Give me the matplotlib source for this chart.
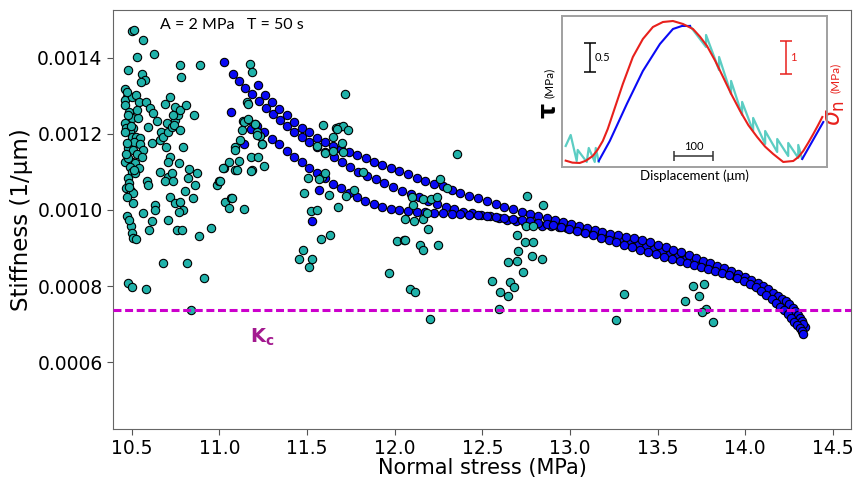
import numpy as np
import matplotlib
matplotlib.use("Agg")
import matplotlib.pyplot as plt
from matplotlib.ticker import FormatStrFormatter

# stiffness values below are in units of 1e-4 1/um
# stick-slip cycles (cyan)
cyan_sn = [10.503, 10.515, 10.563, 10.532, 10.629, 10.481, 10.561, 10.576, 10.551, 10.462,
           10.475, 10.462, 10.462, 10.503, 10.523, 10.543, 10.582, 10.604, 10.623, 10.486,
           10.500, 10.538, 10.462, 10.468, 10.509, 10.490, 10.595, 10.646, 10.671, 10.500,
           10.525, 10.547, 10.515, 10.547, 10.614, 10.481, 10.509, 10.566, 10.529, 10.557,
           10.462, 10.500, 10.519, 10.490, 10.542, 10.500, 10.519, 10.481, 10.486, 10.468,
           10.494, 10.509, 10.506, 10.586, 10.591, 10.472, 10.494, 10.500, 10.509, 10.525,
           10.566, 10.614, 10.600, 10.633, 10.633, 10.481, 10.503, 10.582, 10.680, 10.665,
           10.661, 10.680, 10.700, 10.709, 10.728, 10.747, 10.719, 10.690, 10.696, 10.719,
           10.705, 10.661, 10.709, 10.690, 10.728, 10.734, 10.776, 10.781, 10.747, 10.766,
           10.776, 10.737, 10.741, 10.776, 10.794, 10.772, 10.810, 10.857, 10.719, 10.747,
           10.776, 10.794, 10.770, 10.709, 10.757, 10.785, 10.804, 10.829, 10.823, 10.851,
           10.814, 10.912, 10.890, 10.882, 10.951, 10.985, 10.998, 11.027, 11.032, 11.057,
           11.065, 11.089, 11.114, 11.141, 11.089, 11.118, 11.137, 11.162, 11.156, 11.175,
           11.185, 11.181, 11.222, 11.185, 11.257, 11.202, 11.232, 11.243, 11.213, 11.483,
           11.508, 11.523, 11.559, 11.578, 11.631, 11.456, 11.479, 11.513, 11.530, 11.603,
           11.586, 11.593, 11.650, 11.664, 11.684, 11.704, 11.736, 11.698, 11.704, 11.717,
           11.624, 11.768, 11.675, 11.966, 12.012, 12.054, 12.088, 12.116, 12.097, 12.160,
           12.192, 12.145, 12.164, 12.202, 11.165, 11.141, 11.165, 11.203, 11.128, 11.217,
           11.242, 11.089, 11.057, 11.019, 11.102, 11.179, 11.004, 11.071, 11.670, 11.650,
           11.555, 11.567, 11.603, 11.723, 11.818, 12.259, 12.300, 12.354, 12.107, 12.160,
           12.206, 12.240, 12.186, 12.111, 12.061, 12.249, 12.753, 12.845, 12.696, 12.748,
           12.791, 12.744, 12.791, 12.059, 12.706, 12.782, 12.843, 12.645, 12.696, 12.734,
           12.555, 12.658, 12.681, 12.601, 12.649, 12.595, 13.309, 13.263, 13.700, 13.763,
           13.658, 13.738, 13.775, 13.752, 13.815, 10.838, 10.470, 10.478, 10.470, 10.478,
           10.486, 10.472, 10.483, 10.462, 10.497, 10.468, 10.530, 10.515, 10.870, 10.860]
cyan_k = [14.71, 14.74, 14.48, 14.02, 14.11, 13.68, 13.59, 13.41, 13.37, 13.17,
          12.98, 12.89, 12.76, 12.98, 13.02, 12.84, 12.84, 12.67, 12.54, 12.58,
          12.41, 12.41, 12.28, 12.15, 12.15, 12.06, 12.19, 12.35, 12.02, 11.93,
          11.91, 11.89, 11.80, 11.74, 11.75, 11.62, 11.58, 11.58, 11.47, 11.40,
          11.27, 11.27, 11.23, 11.14, 11.10, 11.01, 10.97, 10.84, 10.72, 10.58,
          10.49, 10.44, 10.18, 10.75, 10.66, 9.85, 9.57, 9.39, 9.26, 9.24,
          9.92, 9.70, 9.48, 10.14, 10.01, 8.08, 7.98, 7.93, 8.61, 12.06,
          11.84, 11.93, 12.28, 12.06, 12.19, 12.36, 12.98, 12.80, 11.66, 11.40,
          11.27, 11.01, 10.88, 10.75, 10.97, 10.75, 13.81, 13.50, 12.71, 12.50,
          12.63, 12.50, 12.23, 12.10, 11.66, 11.23, 12.76, 12.50, 10.35, 10.18,
          10.20, 9.99, 9.96, 9.74, 9.48, 9.48, 10.51, 11.07, 10.84, 10.31,
          8.61, 8.22, 13.81, 9.31, 9.53, 10.66, 10.75, 11.10, 10.22, 10.05,
          10.31, 11.05, 11.30, 10.02, 11.66, 11.84, 12.35, 12.37, 12.84, 13.85,
          13.63, 11.40, 11.40, 11.04, 11.16, 12.26, 11.95, 11.74, 12.06, 10.46,
          10.84, 9.98, 10.01, 9.24, 9.35, 8.70, 8.96, 8.49, 8.70, 11.49,
          10.88, 12.23, 11.91, 12.15, 12.19, 12.21, 12.10, 11.75, 11.53, 13.04,
          10.40, 10.53, 10.07, 8.33, 9.18, 9.20, 7.91, 7.84, 10.35, 9.76,
          9.50, 9.09, 8.96, 7.12, 12.80, 12.32, 12.39, 12.25, 12.10, 11.97,
          11.73, 11.58, 11.27, 11.10, 11.05, 11.03, 10.75, 10.31, 12.13, 11.56,
          11.69, 10.82, 10.98, 10.38, 11.01, 10.82, 10.57, 11.48, 10.12, 10.29,
          10.29, 10.35, 9.92, 9.70, 9.77, 9.09, 10.38, 10.12, 9.35, 9.59,
          9.59, 9.16, 9.16, 9.20, 8.93, 8.80, 8.71, 8.64, 8.67, 8.36,
          8.13, 8.10, 7.98, 7.84, 7.75, 7.40, 7.80, 7.10, 8.00, 8.06,
          7.61, 7.73, 7.40, 7.31, 7.05, 7.37, 13.10, 12.50, 11.76, 11.37,
          10.61, 10.35, 9.74, 12.04, 12.22, 11.48, 12.62, 11.05, 10.97, 10.66]

# stable sliding (blue), three passes
blue_a_sn = [11.027, 11.076, 11.112, 11.148, 11.186, 11.226, 11.265, 11.304, 11.346, 11.386,
             11.428, 11.470, 11.513, 11.555, 11.603, 11.654, 11.700, 11.745, 11.793, 11.841,
             11.892, 11.941, 11.993, 12.042, 12.092, 12.141, 12.192, 12.240, 12.291, 12.339,
             12.388, 12.440, 12.491, 12.544, 12.594, 12.643, 12.693, 12.742, 12.791, 12.841,
             12.890, 12.938, 12.985, 13.030, 13.075, 13.120, 13.165, 13.210, 13.255, 13.300,
             13.345, 13.390, 13.435, 13.480, 13.525, 13.570, 13.615, 13.660, 13.700, 13.740,
             13.780, 13.820, 13.860, 13.900, 13.940, 13.980, 14.015, 14.050, 14.080, 14.110,
             14.140, 14.168, 14.193, 14.216, 14.236, 14.256, 14.274, 14.290, 14.304, 14.316,
             14.326, 14.340]
blue_a_k = [13.89, 13.57, 13.40, 13.21, 13.04, 12.86, 12.69, 12.52, 12.36, 12.22,
            12.06, 11.93, 11.78, 11.67, 11.53, 11.40, 11.27, 11.13, 11.01, 10.90,
            10.82, 10.71, 10.61, 10.50, 10.42, 10.33, 10.24, 10.16, 10.09, 10.02,
            9.96, 9.92, 9.87, 9.83, 9.79, 9.74, 9.70, 9.67, 9.63, 9.59,
            9.58, 9.55, 9.52, 9.49, 9.45, 9.41, 9.36, 9.31, 9.26, 9.21,
            9.15, 9.09, 9.03, 8.97, 8.91, 8.85, 8.79, 8.72, 8.66, 8.59,
            8.53, 8.47, 8.41, 8.34, 8.27, 8.20, 8.12, 8.04, 7.95, 7.86,
            7.77, 7.67, 7.57, 7.47, 7.37, 7.27, 7.17, 7.08, 6.99, 6.90,
            6.83, 6.92]

blue_b_sn = [11.222, 11.261, 11.302, 11.342, 11.384, 11.426, 11.470, 11.513, 11.559, 11.603,
             11.650, 11.694, 11.738, 11.784, 11.835, 11.881, 11.930, 11.978, 12.027, 12.075,
             12.126, 12.175, 12.225, 12.274, 12.326, 12.373, 12.424, 12.474, 12.525, 12.577,
             12.626, 12.677, 12.728, 12.772, 12.820, 12.868, 12.915, 12.960, 13.005, 13.050,
             13.095, 13.140, 13.185, 13.230, 13.275, 13.320, 13.365, 13.410, 13.455, 13.500,
             13.545, 13.590, 13.635, 13.680, 13.720, 13.760, 13.800, 13.840, 13.880, 13.920,
             13.960, 14.000, 14.035, 14.070, 14.100, 14.130, 14.160, 14.185, 14.210, 14.230,
             14.250, 14.270, 14.285, 14.300, 14.312, 14.322, 14.330]
blue_b_k = [13.28, 13.02, 12.83, 12.65, 12.50, 12.32, 12.16, 12.04, 11.90, 11.78,
            11.69, 11.60, 11.52, 11.45, 11.36, 11.27, 11.19, 11.10, 11.03, 10.94,
            10.85, 10.77, 10.69, 10.63, 10.53, 10.44, 10.38, 10.31, 10.24, 10.17,
            10.09, 10.03, 9.96, 9.89, 9.83, 9.79, 9.74, 9.69, 9.63, 9.58,
            9.53, 9.48, 9.43, 9.38, 9.34, 9.30, 9.26, 9.21, 9.15, 9.09,
            9.02, 8.96, 8.89, 8.81, 8.74, 8.67, 8.61, 8.54, 8.47, 8.39,
            8.32, 8.24, 8.17, 8.09, 8.00, 7.92, 7.83, 7.75, 7.67, 7.60,
            7.52, 7.43, 7.34, 7.25, 7.16, 7.08, 7.00]

blue_c_sn = [11.181, 11.217, 11.257, 11.299, 11.340, 11.384, 11.426, 11.470, 11.512, 11.555,
             11.603, 11.650, 11.692, 11.738, 11.784, 11.833, 11.881, 11.930, 11.978, 12.027,
             12.075, 12.126, 12.175, 12.225, 12.274, 12.326, 12.373, 12.424, 12.474, 12.525,
             12.577, 12.626, 12.677, 12.728, 12.772, 12.820, 12.868, 12.905, 12.950, 12.995,
             13.040, 13.085, 13.130, 13.175, 13.220, 13.265, 13.310, 13.355, 13.400, 13.445,
             13.490, 13.535, 13.580, 13.625, 13.670, 13.710, 13.750, 13.790, 13.830, 13.870,
             13.910, 13.950, 13.990, 14.025, 14.060, 14.090, 14.120, 14.150, 14.175, 14.200,
             14.222, 14.242, 14.262, 14.280, 14.296, 14.310, 14.322, 14.332]
blue_c_k = [12.13, 12.22, 12.04, 11.88, 11.73, 11.55, 11.40, 11.26, 11.10, 10.97,
            10.84, 10.68, 10.57, 10.45, 10.33, 10.24, 10.16, 10.09, 10.03, 10.01,
            9.98, 9.96, 9.95, 9.93, 9.91, 9.90, 9.89, 9.87, 9.86, 9.83,
            9.81, 9.79, 9.76, 9.73, 9.70, 9.67, 9.64, 9.60, 9.55, 9.49,
            9.44, 9.39, 9.33, 9.27, 9.21, 9.15, 9.09, 9.02, 8.96, 8.90,
            8.83, 8.77, 8.71, 8.66, 8.60, 8.55, 8.50, 8.46, 8.40, 8.34,
            8.28, 8.21, 8.13, 8.06, 7.97, 7.87, 7.77, 7.66, 7.56, 7.46,
            7.36, 7.26, 7.16, 7.06, 6.97, 6.89, 6.82, 6.75]

blue_extra_sn = [11.065, 11.141, 11.569, 11.527]
blue_extra_k = [12.58, 11.73, 10.53, 9.70]

k_crit = 7.36  # 1e-4 1/um

# inset: displacement (um), shear stress tau and normal stress (MPa)
ins_sn_x = [9.5, 27.0, 45.7, 62.0, 79.3, 92.0, 105.2, 118.0, 131.0, 156.9, 182.8, 208.6,
            234.5, 260.3, 286.2, 312.1, 337.9, 356.0, 374.1, 395.0, 415.5, 437.0, 459.5,
            481.0, 503.4, 524.0, 544.8, 570.7, 596.6, 610.0, 622.4, 635.0, 648.3, 660.0, 671.6]
ins_sn = [10.38, 10.32, 10.31, 10.38, 10.52, 10.71, 10.97, 11.33, 11.78, 12.68, 13.49, 14.03,
          14.39, 14.54, 14.57, 14.48, 14.33, 14.10, 13.82, 13.38, 12.89, 12.37, 11.87,
          11.44, 11.09, 10.80, 10.58, 10.34, 10.37, 10.49, 10.67, 10.91, 11.18, 11.43, 11.69]
ins_stable_x = [94.8, 123.3, 167.2, 208.6, 252.6, 286.2, 309.5, 330.2]
ins_stable_tau = [6.098, 6.443, 7.081, 7.650, 8.116, 8.375, 8.427, 8.427]
ins_stable2_x = [619.8, 674.1]
ins_stable2_tau = [6.132, 6.770]
ins_ss1_x = [9.5, 22.4, 37.9, 40.5, 63.8, 69.0, 84.5, 87.1, 94.8]
ins_ss1_tau = [6.357, 6.546, 6.098, 6.288, 6.081, 6.322, 6.081, 6.322, 6.081]
ins_ss2_x = [330.2, 371.6, 371.6, 405.2, 405.2, 436.2, 436.2, 464.7, 464.7, 493.1, 493.1,
             524.1, 524.1, 555.2, 555.2, 583.6, 583.6, 609.5, 609.5, 619.0]
ins_ss2_tau = [8.427, 8.064, 8.271, 7.667, 7.892, 7.254, 7.478, 6.891, 7.116, 6.615, 6.840,
               6.391, 6.615, 6.253, 6.477, 6.184, 6.408, 6.150, 6.374, 6.141]

cyan = "#20b2aa"
blue = "#0a0af5"
red = "#e8201c"

fig = plt.figure(figsize=(8.6, 4.79), dpi=100)
ax = fig.add_axes([0.1314, 0.1044, 0.8581, 0.8747])

sc_kw = dict(s=36, edgecolors="black", linewidths=0.8)
for xs, ks in [(blue_a_sn, blue_a_k), (blue_b_sn, blue_b_k), (blue_c_sn, blue_c_k),
               (blue_extra_sn, blue_extra_k)]:
    ax.scatter(xs, np.array(ks) * 1e-4, c=blue, zorder=3, **sc_kw)
ax.scatter(cyan_sn, np.array(cyan_k) * 1e-4, c=cyan, zorder=4, **sc_kw)

ax.axhline(k_crit * 1e-4, color="#cc00cc", lw=2.2, dashes=(2.6, 1.2), zorder=5)
ax.text(11.243, 0.000665, r"$\mathbf{K_c}$", color="#a3198f", fontsize=14,
        ha="center", va="center")
ax.text(0.064, 0.964, "A = 2 MPa   T = 50 s", transform=ax.transAxes,
        fontsize=11.5, family="Lato", va="center")

ax.set_xlim(10.393, 14.603)
ax.set_ylim(0.000424, 0.001526)
ax.set_xticks([10.5, 11.0, 11.5, 12.0, 12.5, 13.0, 13.5, 14.0, 14.5])
ax.set_yticks([0.0006, 0.0008, 0.0010, 0.0012, 0.0014])
ax.xaxis.set_major_formatter(FormatStrFormatter("%.1f"))
ax.yaxis.set_major_formatter(FormatStrFormatter("%.4f"))
ax.tick_params(labelsize=13.5, color="#555555", length=4)
ax.set_xlabel("Normal stress (MPa)", fontsize=15, labelpad=0)
ax.set_ylabel("Stiffness (1/\u03bcm)", fontsize=16.5, labelpad=3)
for sp in ax.spines.values():
    sp.set_color("#666666")

# inset
axin = fig.add_axes([0.6535, 0.6514, 0.3081, 0.3152])
axin.plot(ins_ss1_x, ins_ss1_tau, color="#5ccdc3", lw=1.6)
axin.plot(ins_ss2_x, ins_ss2_tau, color="#5ccdc3", lw=1.6)
axin.plot(ins_stable_x, ins_stable_tau, color=blue, lw=1.5)
axin.plot(ins_stable2_x, ins_stable2_tau, color=blue, lw=1.5)
axin.set_xlim(0, 683.6)
axin.set_ylim(5.994, 8.599)
axin.set_xticks([])
axin.set_yticks([])
axin.errorbar(71.6, 7.889, yerr=0.25, color="black", capsize=4, lw=1.1, capthick=1.1)
axin.text(84.5, 7.889, "0.5", va="center", fontsize=8, family="Lato")
axin.errorbar(338.8, 6.19, xerr=50, color="#333333", capsize=3.5, lw=1.1, capthick=1.1)
axin.text(338.8, 6.25, "100", ha="center", va="bottom", fontsize=8, family="Lato")
axin.set_xlabel("Displacement (\u03bcm)", fontsize=9.5, family="Lato", labelpad=2)
axin.text(-0.052, 0.377, "\u03c4", rotation=90, fontsize=17, fontweight="bold",
          transform=axin.transAxes, ha="center", va="center")
axin.text(-0.048, 0.56, "(MPa)", rotation=90, fontsize=8.5, family="Lato",
          transform=axin.transAxes, ha="center", va="center")
axin.text(1.03, 0.36, r"$\sigma_{\rm n}$", rotation=90, fontsize=17, color=red,
          transform=axin.transAxes, ha="center", va="center")
axin.text(1.03, 0.589, "(MPa)", rotation=90, fontsize=8.5, family="Lato", color=red,
          transform=axin.transAxes, ha="center", va="center")

ax2 = axin.twinx()
ax2.plot(ins_sn_x, ins_sn, color=red, lw=1.5)
ax2.set_ylim(10.19, 14.72)
ax2.set_yticks([])
ax2.errorbar(578.4, 13.48, yerr=0.5, color=red, capsize=4, lw=1.1, capthick=1.1)
ax2.text(588.8, 13.48, "1", va="center", fontsize=8, family="Lato", color=red)
for a in (axin, ax2):
    for sp in a.spines.values():
        sp.set_color("#a0a0a0")
        sp.set_linewidth(1.2)

fig.savefig("out.png", dpi=100)
